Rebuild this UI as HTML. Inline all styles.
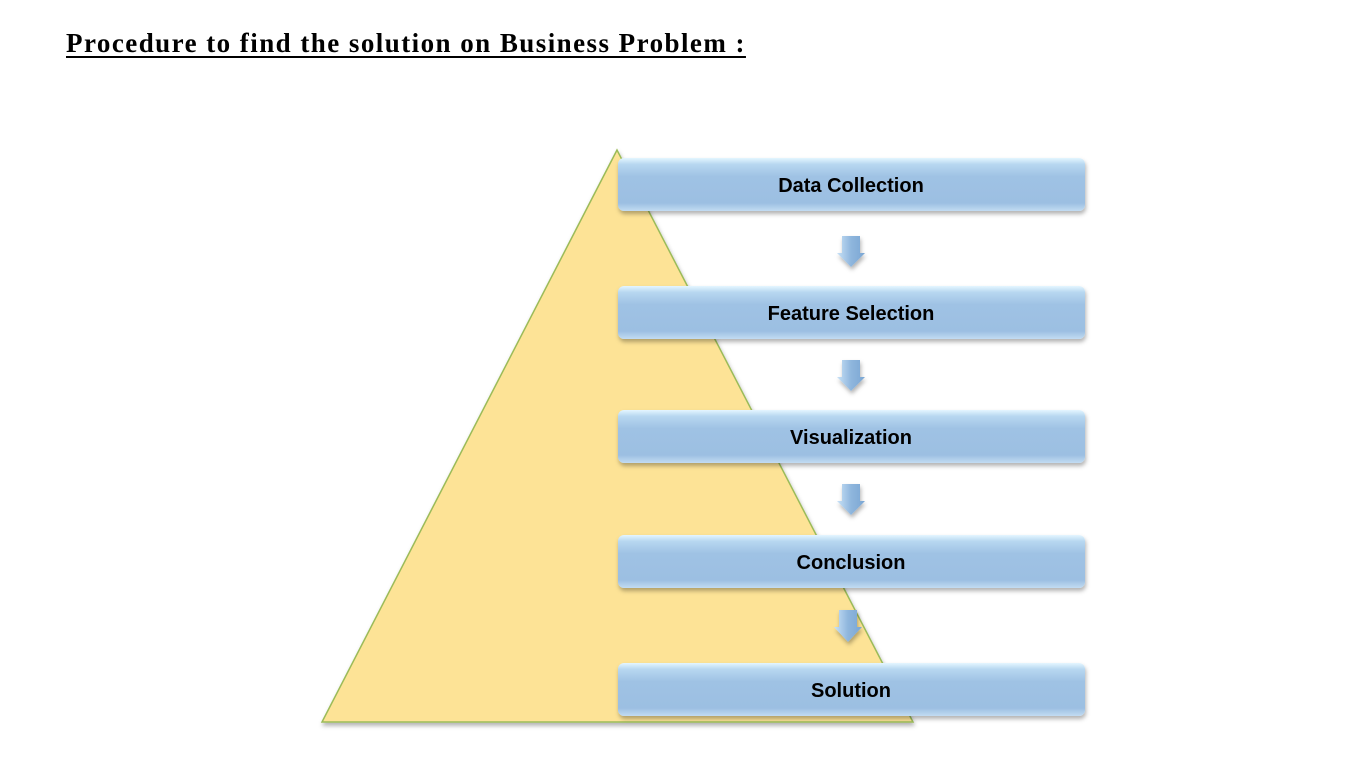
<!DOCTYPE html>
<html><head><meta charset="utf-8"><style>
html,body{margin:0;padding:0;background:#fff;width:1350px;height:757px;overflow:hidden;}
.t{position:absolute;left:66px;top:28px;font-family:"Liberation Serif",serif;font-weight:bold;font-size:27px;letter-spacing:1.45px;text-decoration:underline;text-decoration-thickness:2px;text-underline-offset:4px;color:#000;white-space:nowrap;}
svg{position:absolute;left:0;top:0;}
</style></head><body>
<div class="t">Procedure to find the solution on Business Problem :</div>
<svg width="1350" height="757" viewBox="0 0 1350 757">
<defs>
<linearGradient id="bg" x1="0" y1="0" x2="0" y2="1">
<stop offset="0" stop-color="#e4f6ff"/><stop offset="0.12" stop-color="#b7d7f0"/><stop offset="0.35" stop-color="#9fc2e4"/><stop offset="0.85" stop-color="#9cbfe2"/><stop offset="1" stop-color="#c2dcf2"/>
</linearGradient>
<linearGradient id="ag" x1="0" y1="0" x2="1" y2="0">
<stop offset="0" stop-color="#c9e2f7"/><stop offset="0.5" stop-color="#8fb6dd"/><stop offset="1" stop-color="#7aa6d3"/>
</linearGradient>
<filter id="sh" x="-10%" y="-10%" width="120%" height="130%"><feDropShadow dx="1" dy="3" stdDeviation="2" flood-color="#000" flood-opacity="0.3"/></filter>
</defs>
<polygon points="617,150 322,722 913,722" fill="#fde396" stroke="#9bbb59" stroke-width="1.5" filter="url(#sh)"/>
<g font-family="'Liberation Sans',sans-serif" font-weight="bold" font-size="20" text-anchor="middle" fill="#000">
<g filter="url(#sh)">
<rect x="618" y="158" width="467" height="53" rx="6" fill="url(#bg)"/>
<rect x="618" y="286" width="467" height="53" rx="6" fill="url(#bg)"/>
<rect x="618" y="410" width="467" height="53" rx="6" fill="url(#bg)"/>
<rect x="618" y="535" width="467" height="53" rx="6" fill="url(#bg)"/>
<rect x="618" y="663" width="467" height="53" rx="6" fill="url(#bg)"/>
</g>
<text x="851" y="192">Data Collection</text>
<text x="851" y="320">Feature Selection</text>
<text x="851" y="444">Visualization</text>
<text x="851" y="569">Conclusion</text>
<text x="851" y="697">Solution</text>
</g>
<g fill="url(#ag)" filter="url(#sh)">
<polygon points="842,236 860,236 860,253 865,253 851,267 837,253 842,253"/>
<polygon points="842,360 860,360 860,377 865,377 851,391 837,377 842,377"/>
<polygon points="842,484 860,484 860,501 865,501 851,515 837,501 842,501"/>
<polygon points="839,610 857,610 857,627 862,627 848,642 834,627 839,627"/>
</g>
</svg>
</body></html>
